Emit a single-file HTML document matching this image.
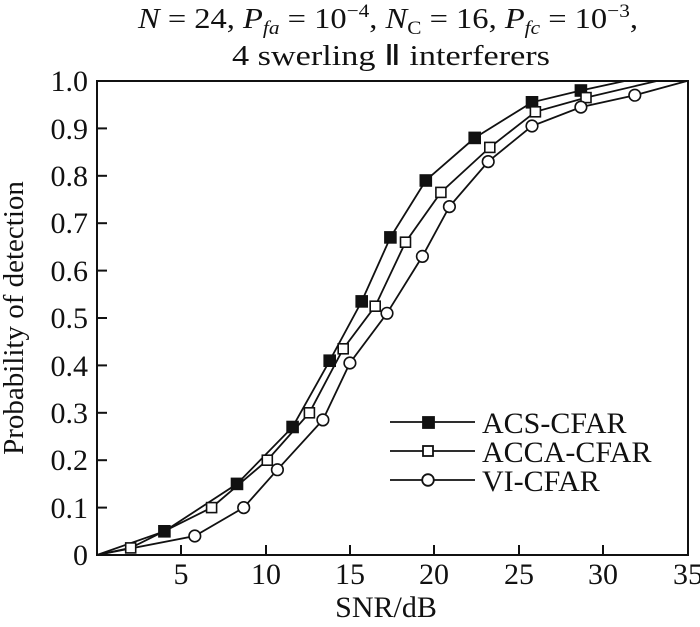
<!DOCTYPE html>
<html><head><meta charset="utf-8"><style>body{margin:0;background:#fff}</style></head><body>
<svg width="700" height="622" xmlns="http://www.w3.org/2000/svg" font-family="Liberation Serif, serif" fill="#111">
<text x="388" y="28" font-size="29" text-anchor="middle" textLength="500" lengthAdjust="spacingAndGlyphs"><tspan font-style="italic">N</tspan> = 24, <tspan font-style="italic">P</tspan><tspan font-style="italic" font-size="19" dy="6">fa</tspan><tspan dy="-6"> = 10</tspan><tspan font-size="19" dy="-11">−4</tspan><tspan dy="11">, </tspan><tspan font-style="italic">N</tspan><tspan font-size="19" dy="6">C</tspan><tspan dy="-6"> = 16, </tspan><tspan font-style="italic">P</tspan><tspan font-style="italic" font-size="19" dy="6">fc</tspan><tspan dy="-6"> = 10</tspan><tspan font-size="19" dy="-11">−3</tspan><tspan dy="11">,</tspan></text>
<text x="391" y="65" font-size="29" text-anchor="middle" textLength="318" lengthAdjust="spacingAndGlyphs">4 swerling Ⅱ interferers</text>
<rect x="97" y="81" width="591" height="474" fill="none" stroke="#111" stroke-width="2"/>
<g stroke="#111" stroke-width="2">
<line x1="181" y1="555" x2="181" y2="545"/><line x1="266" y1="555" x2="266" y2="545"/><line x1="350" y1="555" x2="350" y2="545"/><line x1="434" y1="555" x2="434" y2="545"/><line x1="519" y1="555" x2="519" y2="545"/><line x1="603" y1="555" x2="603" y2="545"/>
<line x1="97" y1="507.6" x2="107" y2="507.6"/><line x1="97" y1="460.2" x2="107" y2="460.2"/><line x1="97" y1="412.8" x2="107" y2="412.8"/><line x1="97" y1="365.4" x2="107" y2="365.4"/><line x1="97" y1="318" x2="107" y2="318"/><line x1="97" y1="270.6" x2="107" y2="270.6"/><line x1="97" y1="223.2" x2="107" y2="223.2"/><line x1="97" y1="175.8" x2="107" y2="175.8"/><line x1="97" y1="128.4" x2="107" y2="128.4"/>
</g>
<g font-size="30" text-anchor="middle">
<text x="181" y="584">5</text><text x="266" y="584">10</text><text x="350" y="584">15</text><text x="434" y="584">20</text><text x="519" y="584">25</text><text x="603" y="584">30</text><text x="688" y="584">35</text>
<text x="386" y="617">SNR/dB</text>
</g>
<g font-size="30" text-anchor="end">
<text x="88" y="565">0</text><text x="88" y="518">0.1</text><text x="88" y="470">0.2</text><text x="88" y="423">0.3</text><text x="88" y="376">0.4</text><text x="88" y="328">0.5</text><text x="88" y="281">0.6</text><text x="88" y="233">0.7</text><text x="88" y="186">0.8</text><text x="88" y="139">0.9</text><text x="88" y="91">1.0</text>
</g>
<text transform="translate(23,318) rotate(-90)" font-size="29" text-anchor="middle">Probability of detection</text>
<g fill="none" stroke="#111" stroke-width="1.8">
<polyline points="97,555 164.4,531.3 237,483.9 292.6,427 329.7,360.7 361.7,301.4 390.4,237.4 425.8,180.5 474.7,137.9 532,102.3 580.9,90.5 624.7,81"/>
<polyline points="97,555 130.7,547.9 211.6,507.6 267.3,460.2 309.4,412.8 343.2,348.8 375.2,306.2 405.5,242.2 440.9,192.4 489.8,147.4 535.4,111.8 586,97.6 656.8,81"/>
<polyline points="97,555 194.8,536 243.7,507.6 277.4,469.7 322.9,419.9 349.9,363 387,313.3 422.4,256.4 449.4,206.6 488.2,161.6 532,126 580.9,107.1 634.8,95.2 687,81"/>
</g>
<g stroke="#111" stroke-width="1.6" fill="#111">
<rect x="158.9" y="525.8" width="11" height="11"/><rect x="231.5" y="478.4" width="11" height="11"/><rect x="287.1" y="421.5" width="11" height="11"/><rect x="324.2" y="355.2" width="11" height="11"/><rect x="356.2" y="295.9" width="11" height="11"/><rect x="384.9" y="231.9" width="11" height="11"/><rect x="420.3" y="175" width="11" height="11"/><rect x="469.2" y="132.4" width="11" height="11"/><rect x="526.5" y="96.8" width="11" height="11"/><rect x="575.4" y="85" width="11" height="11"/>
</g>
<g stroke="#111" stroke-width="1.6" fill="#fff">
<rect x="125.7" y="542.9" width="10" height="10"/><rect x="206.6" y="502.6" width="10" height="10"/><rect x="262.3" y="455.2" width="10" height="10"/><rect x="304.4" y="407.8" width="10" height="10"/><rect x="338.2" y="343.8" width="10" height="10"/><rect x="370.2" y="301.2" width="10" height="10"/><rect x="400.5" y="237.2" width="10" height="10"/><rect x="435.9" y="187.4" width="10" height="10"/><rect x="484.8" y="142.4" width="10" height="10"/><rect x="530.4" y="106.8" width="10" height="10"/><rect x="581" y="92.6" width="10" height="10"/>
<circle cx="194.8" cy="536" r="5.8"/><circle cx="243.7" cy="507.6" r="5.8"/><circle cx="277.4" cy="469.7" r="5.8"/><circle cx="322.9" cy="419.9" r="5.8"/><circle cx="349.9" cy="363" r="5.8"/><circle cx="387" cy="313.3" r="5.8"/><circle cx="422.4" cy="256.4" r="5.8"/><circle cx="449.4" cy="206.6" r="5.8"/><circle cx="488.2" cy="161.6" r="5.8"/><circle cx="532" cy="126" r="5.8"/><circle cx="580.9" cy="107.1" r="5.8"/><circle cx="634.8" cy="95.2" r="5.8"/>
</g>
<g stroke="#111" stroke-width="1.8">
<line x1="390" y1="422" x2="475" y2="422"/><rect x="423" y="417" width="11" height="11" fill="#111"/>
<line x1="390" y1="451" x2="475" y2="451"/><rect x="423" y="446" width="10" height="10" fill="#fff"/>
<line x1="390" y1="480" x2="475" y2="480"/><circle cx="428" cy="480" r="5.8" fill="#fff"/>
</g>
<g font-size="30"><text x="482" y="433">ACS-CFAR</text><text x="482" y="462">ACCA-CFAR</text><text x="482" y="491">VI-CFAR</text></g>
</svg>
</body></html>
